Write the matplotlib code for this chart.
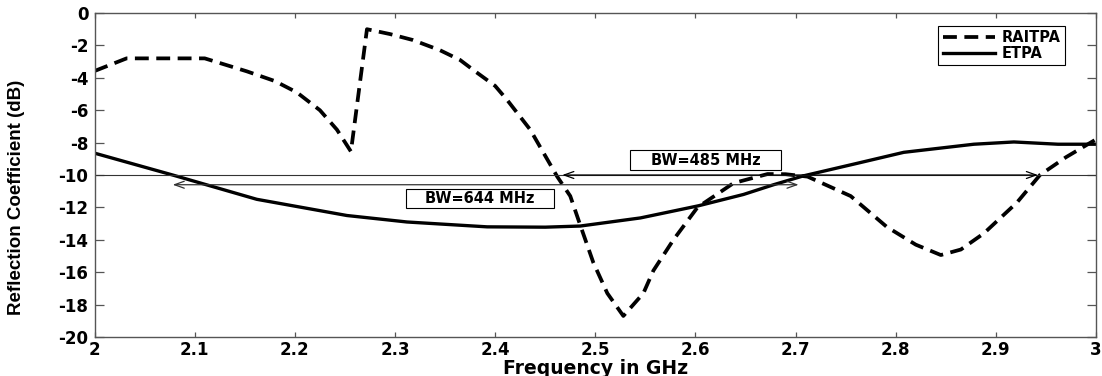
import matplotlib
matplotlib.use("Agg")
import matplotlib.pyplot as plt
from matplotlib.patches import Rectangle

# ---- data ----
raitpa_f = [2.000, 2.032, 2.060, 2.085, 2.110, 2.152, 2.180, 2.202, 2.225, 2.242, 2.256,
            2.272, 2.295, 2.318, 2.345, 2.365, 2.380, 2.400, 2.412, 2.435, 2.448, 2.462,
            2.475, 2.485, 2.498, 2.512, 2.528, 2.548, 2.558, 2.578, 2.602, 2.638, 2.672,
            2.690, 2.712, 2.755, 2.791, 2.820, 2.845, 2.865, 2.888, 2.921, 2.944, 2.970, 3.000]
raitpa_db = [-3.58, -2.80, -2.80, -2.80, -2.80, -3.60, -4.20, -4.90, -6.00, -7.20, -8.55,
             -1.00, -1.30, -1.67, -2.30, -2.90, -3.60, -4.50, -5.37, -7.20, -8.60, -10.1,
             -11.3, -13.1, -15.4, -17.3, -18.7, -17.3, -15.9, -14.0, -12.0, -10.5, -9.94,
             -9.95, -10.1, -11.3, -13.2, -14.3, -14.94, -14.6, -13.6, -11.7, -10.0, -8.9, -7.8]

etpa_f = [2.000, 2.078, 2.162, 2.252, 2.312, 2.392, 2.450, 2.485, 2.545, 2.603, 2.648,
          2.678, 2.708, 2.760, 2.808, 2.878, 2.918, 2.962, 3.000]
etpa_db = [-8.65, -10.0, -11.5, -12.5, -12.9, -13.2, -13.22, -13.15, -12.65, -11.9, -11.2,
           -10.6, -10.05, -9.3, -8.6, -8.1, -7.96, -8.1, -8.1]

ref_level = -10.0
bw1_label = "BW=485 MHz"
bw1_range = (2.467, 2.942)
bw1_level = -10.0
bw2_label = "BW=644 MHz"
bw2_range = (2.078, 2.703)
bw2_level = -10.6

xticks = [2, 2.1, 2.2, 2.3, 2.4, 2.5, 2.6, 2.7, 2.8, 2.9, 3]
xticklabels = ["2", "2.1", "2.2", "2.3", "2.4", "2.5", "2.6", "2.7", "2.8", "2.9", "3"]
yticks = list(range(-20, 1, 2))

plt.rcParams['axes.unicode_minus'] = False
BOLD = dict(family='DejaVu Sans', weight='bold')

fig = plt.figure(figsize=(11.02, 3.76), dpi=100)
ax = fig.add_axes([0.0858, 0.1037, 1.0 - 0.0858 - 0.0054, 0.9654 - 0.1037])

ax.plot(raitpa_f, raitpa_db, color='black', lw=2.7, linestyle=(0, (3.7, 2.0)), label='RAITPA')
ax.plot(etpa_f, etpa_db, color='black', lw=2.4, label='ETPA')

# reference line and bandwidth arrows
ax.axhline(ref_level, color='#333333', lw=0.8)
ax.annotate('', xy=(bw1_range[0], bw1_level), xytext=(bw1_range[1], bw1_level),
            arrowprops=dict(arrowstyle='<->,head_length=0.7,head_width=0.25', lw=0.9,
                            color='black', shrinkA=0, shrinkB=0))
ax.annotate('', xy=(bw2_range[0], bw2_level), xytext=(bw2_range[1], bw2_level),
            arrowprops=dict(arrowstyle='<->,head_length=0.7,head_width=0.25', lw=0.9,
                            color='#333333', shrinkA=0, shrinkB=0))

# text boxes
box1 = (2.535, -9.69, 0.150, 1.23)
box2 = (2.311, -12.04, 0.148, 1.18)
for (x0, y0, w, h), lab in [(box1, bw1_label), (box2, bw2_label)]:
    ax.add_patch(Rectangle((x0, y0), w, h, facecolor='white', edgecolor='black', lw=0.8, zorder=4))
    ax.text(x0 + w / 2, y0 + h / 2, lab, ha='center', va='center', fontsize=10.5,
            zorder=5, **BOLD)

ax.set_xlim(2, 3)
ax.set_ylim(-20, 0)
ax.set_xticks(xticks)
ax.set_xticklabels(xticklabels)
ax.set_yticks(yticks)

for sp in ax.spines.values():
    sp.set_color('#555555')
    sp.set_linewidth(1.0)

ax.tick_params(axis='x', direction='in', top=True, length=3.6, width=0.9, color='#555555',
               pad=3.0, labelsize=12)
ax.tick_params(axis='y', direction='in', right=True, length=6.5, width=0.9, color='#555555',
               pad=4.5, labelsize=12)
for lbl in ax.get_xticklabels() + ax.get_yticklabels():
    lbl.set_fontweight('bold')
    lbl.set_family('DejaVu Sans')

ax.set_xlabel('Frequency in GHz', fontsize=13.5, **BOLD)
ax.xaxis.set_label_coords(0.5, -0.068)
ax.xaxis.label.set_va('top')
ax.set_ylabel('Reflection Coefficient (dB)', fontsize=13.5, family='Liberation Sans',
              weight='bold')
ax.yaxis.set_label_coords(-0.069, 0.43)

leg = ax.legend(loc='upper right', bbox_to_anchor=(0.969, 0.960), borderaxespad=0,
                fancybox=False, framealpha=1, edgecolor='black',
                prop=dict(family='DejaVu Sans', weight='bold', size=10.5),
                handlelength=3.6, handletextpad=0.45, labelspacing=0.05, borderpad=0.3)
leg.get_frame().set_linewidth(0.8)

fig.savefig('out.png', dpi=100)
